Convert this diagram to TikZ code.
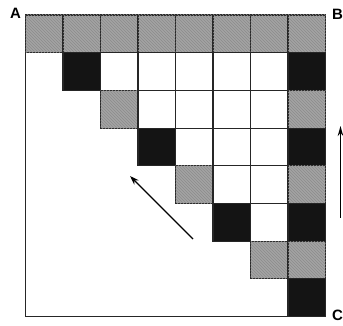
\documentclass[tikz,border=0pt]{standalone}
\usepackage{fontspec}
\setsansfont{Liberation Sans}
\usetikzlibrary{patterns,arrows.meta}
\begin{document}
\begin{tikzpicture}[x=1pt,y=-1pt,
  cellbase/.style={draw=black!85, line width=1.1pt, minimum width=37.5pt, minimum height=37.7pt, inner sep=0pt, outer sep=0pt},
  cell0/.style={cellbase, fill=white},
  cell1/.style={cellbase, fill=gray!72, postaction={pattern=north west lines, pattern color=black!45}},
  cell2/.style={cellbase, fill=black!92},
  lab/.style={font=\sffamily\bfseries\fontsize{15}{15}\selectfont, inner sep=0pt},
  arr/.style={-{Stealth[length=9pt,width=6pt]}, line width=1.3pt}]
\useasboundingbox (0,0) rectangle (343,326);
% outer border of the lower triangle
\coordinate (tl) at (25.5,15);
\coordinate (bl) at (25.5,316.5);
\coordinate (br) at (288,316.5);
\draw[line width=1pt, black!85] (tl) -- (bl) -- (br);
% cells
\foreach \r in {1,...,8}{
  \foreach \c in {1,...,8}{
    \ifnum\c<\r\relax\else
      \pgfmathtruncatemacro\k{(\r==1) ? 1 : (((\c==\r)||(\c==8)) ? ((mod(\r,2)==1) ? 1 : 2) : 0)}
      \node[cell\k] (c-\r-\c) at ({25.5+(\c-0.5)*37.5},{15+(\r-0.5)*37.7}) {};
    \fi
  }
}
% arrows
\coordinate (d1) at (193,239);
\coordinate (d2) at (130,176);
\draw[arr] (d1) -- (d2);
\coordinate (v1) at (340.5,218);
\coordinate (v2) at (340.5,126);
\draw[arr, line width=1.7pt, -{Stealth[length=10pt,width=5.5pt]}] (v1) -- (v2);
% labels
\node[lab] (A) at (15.5,13) {A};
\node[lab] (B) at (337.5,14) {B};
\node[lab] (C) at (337.5,315) {C};
\end{tikzpicture}
\end{document}
